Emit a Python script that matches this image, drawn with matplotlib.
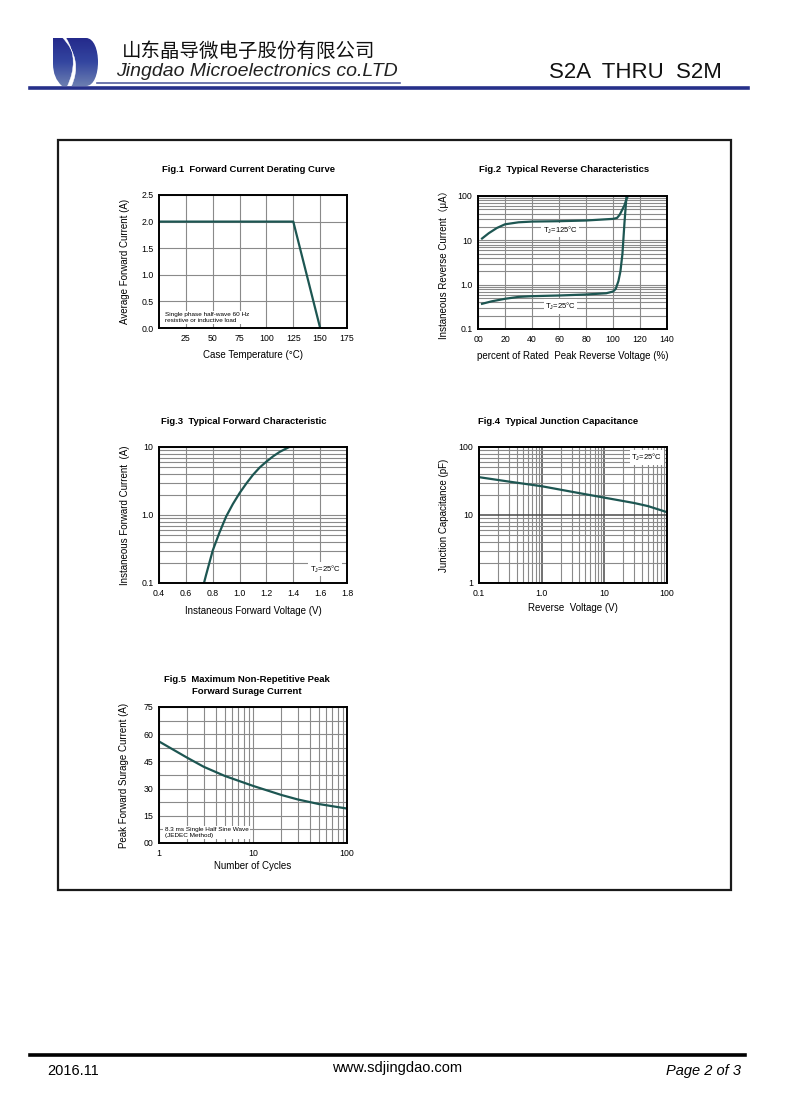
import numpy as np
import matplotlib.pyplot as plt
from matplotlib.path import Path
from matplotlib.patches import PathPatch, Rectangle
from matplotlib.colors import LinearSegmentedColormap
from matplotlib.ticker import FixedLocator, NullFormatter, LogLocator

plt.rcParams['font.family'] = ['Liberation Sans', 'Noto Sans CJK SC', 'DejaVu Sans']
plt.rcParams['mathtext.fontset'] = 'custom'
plt.rcParams['mathtext.rm'] = 'Liberation Sans'

# ---- data ----
# Fig.1 derating
case_temp = [0, 125, 150]
avg_current = [2.0, 2.0, 0.0]

# Fig.2 reverse characteristics (% of rated PRV, uA)
pct_125 = [3, 8, 14, 20, 30, 40, 60, 80, 100, 103, 105, 107, 108.5, 110, 111]
ir_125 = [11, 14.5, 19, 23, 25.5, 26.5, 27, 28, 30.5, 32, 38, 50, 62, 85, 100]
pct_25 = [3, 10, 20, 30, 40, 60, 80, 95, 100, 102, 104, 105.5, 107, 108.5, 110]
ir_25 = [0.37, 0.42, 0.48, 0.53, 0.55, 0.57, 0.6, 0.64, 0.7, 0.8, 1.2, 2.0, 5.0, 25, 100]

# Fig.3 forward characteristic
vf = [0.735, 0.75, 0.8, 0.85, 0.9, 0.95, 1.0, 1.05, 1.1, 1.15, 1.2, 1.25, 1.3, 1.37]
i_f = [0.1, 0.13, 0.3, 0.55, 0.95, 1.45, 2.1, 2.9, 3.9, 5.0, 6.1, 7.3, 8.5, 10]

# Fig.4 junction capacitance
vr = [0.1, 0.3, 1, 3, 10, 30, 50, 100]
cj = [36, 31, 26.5, 22, 18, 15, 13.5, 11]

# Fig.5 surge current
cycles = [1, 2, 3, 5, 10, 20, 30, 50, 100]
ifsm = [56, 47, 42, 37, 31.5, 26.5, 24, 21.5, 19]

W, H = 790, 1117
fig = plt.figure(figsize=(W / 100, H / 100), dpi=100)

curve_col = '#1d5652'
grid_col = '#8a8a8a'
axes_list = []


def px_axes(l, t, r, b):
    a = fig.add_axes([l / W, 1 - b / H, (r - l) / W, (b - t) / H])
    axes_list.append(a)
    return a


def px_text(x, y, s, **kw):
    fig.text(x / W, 1 - y / H, s, **kw)


def style(ax):
    for sp in ax.spines.values():
        sp.set_linewidth(1.4)
        sp.set_color('black')
    ax.grid(True, which='both', color=grid_col, lw=0.8)
    ax.set_axisbelow(True)


def labels(ax, xl, yl, xpos, ypos):
    ax.set_xlabel(xl, fontsize=7, va='center')
    ax.set_ylabel(yl, fontsize=7, va='center')
    ax.xaxis.set_label_coords(0.5, xpos)
    ax.yaxis.set_label_coords(ypos, 0.5)


# ---- page decoration ----
bg = fig.add_axes([0, 0, 1, 1], zorder=-1)
bg.axis('off')

# logo
verts = [(53, 38), (86, 38), (94, 38), (98, 50), (98, 62), (98, 74), (94, 86), (86, 86),
         (62, 86), (53, 78), (53, 64), (53, 38)]
codes = [Path.MOVETO, Path.LINETO, Path.CURVE4, Path.CURVE4, Path.CURVE4, Path.CURVE4,
         Path.CURVE4, Path.CURVE4, Path.LINETO, Path.CURVE3, Path.CURVE3, Path.LINETO]
d_patch = PathPatch(Path(verts, codes), facecolor='none', edgecolor='none')
bg.add_patch(d_patch)
grad = np.linspace(0, 1, 64).reshape(-1, 1)
cmap = LinearSegmentedColormap.from_list('logo', ['#23288a', '#3446a0', '#6f82b2'])
im = bg.imshow(grad, cmap=cmap, extent=(50, 100, 88, 36), aspect='auto', origin='upper')
im.set_clip_path(d_patch)
gap = Path([(62, 37), (66, 38), (80, 60), (67, 87), (71, 87), (84, 60), (62, 37)],
           [Path.MOVETO, Path.LINETO, Path.CURVE3, Path.CURVE3, Path.LINETO, Path.CURVE3, Path.CURVE3])
bg.add_patch(PathPatch(gap, facecolor='white', edgecolor='white', lw=0.3))
bg.set_xlim(0, W)
bg.set_ylim(H, 0)

px_text(122, 51, '山东晶导微电子股份有限公司', fontsize=14, family=['Noto Sans CJK SC'],
        va='center', ha='left', color='#111111', style='italic')
px_text(116, 72, 'Jingdao Microelectronics co.LTD', fontsize=14,
        style='italic', va='center', ha='left', color='#222222')
bg.plot([97, 400], [83, 83], color='#5560a0', lw=1.2)
bg.plot([30, 748], [88, 88], color='#26308a', lw=2.6)
px_text(722, 72, 'S2A  THRU  S2M', fontsize=16, ha='right', va='center', color='#111111')

# frame
bg.add_patch(Rectangle((58, 140), 673, 750, fill=False, edgecolor='#1a1a1a', lw=1.6))

# footer
bg.plot([30, 745], [1055, 1055], color='black', lw=2.6)
px_text(47, 1071, '2016.11', fontsize=10.5, va='center', ha='left')
px_text(397, 1068, 'www.sdjingdao.com', fontsize=10.5, va='center', ha='center')
px_text(741, 1071, 'Page 2 of 3', fontsize=10.5, style='italic', va='center', ha='right')

note_box = dict(facecolor='white', edgecolor='none', pad=1.0)
title_kw = dict(fontsize=6.8, weight='bold', ha='center', va='center')

# ---- Fig.1 ----
ax1 = px_axes(159, 195, 347, 328)
style(ax1)
ax1.plot(case_temp, avg_current, color=curve_col, lw=1.6)
ax1.set_xlim(0, 175)
ax1.set_ylim(0, 2.5)
ax1.set_xticks([25, 50, 75, 100, 125, 150, 175])
ax1.set_xticklabels(['25', '50', '75', '100', '125', '150', '175'])
ax1.set_yticks([0, 0.5, 1.0, 1.5, 2.0, 2.5])
ax1.set_yticklabels(['0.0', '0.5', '1.0', '1.5', '2.0', '2.5'])
ax1.text(0.03, 0.04, 'Single phase half-wave 60 Hz\nresistive or inductive load', fontsize=4.6,
         transform=ax1.transAxes, ha='left', va='bottom', bbox=note_box, linespacing=1.1)
labels(ax1, 'Case Temperature (°C)', 'Average Forward Current (A)', -0.2, -0.18)
px_text(248, 169, 'Fig.1  Forward Current Derating Curve', **title_kw)

# ---- Fig.2 ----
ax2 = px_axes(478, 196, 667, 329)
ax2.set_yscale('log')
style(ax2)
ax2.plot(pct_125, ir_125, color=curve_col, lw=1.6)
ax2.plot(pct_25, ir_25, color=curve_col, lw=1.6)
ax2.set_xlim(0, 140)
ax2.set_ylim(0.1, 100)
ax2.set_xticks(range(0, 141, 20))
ax2.set_xticklabels(['00', '20', '40', '60', '80', '100', '120', '140'])
ax2.set_yticks([0.1, 1, 10, 100])
ax2.set_yticklabels(['0.1', '1.0', '10', '100'])
ax2.yaxis.set_minor_locator(LogLocator(subs=np.arange(2, 10)))
ax2.yaxis.set_minor_formatter(NullFormatter())
ax2.text(61, 17, r'T$_\mathregular{J}$=125°C', fontsize=5.5, ha='center', va='center', bbox=note_box)
ax2.text(61, 0.32, r'T$_\mathregular{J}$=25°C', fontsize=5.5, ha='center', va='center', bbox=note_box)
labels(ax2, 'percent of Rated  Peak Reverse Voltage (%)', 'Instaneous Reverse Current（μA）', -0.2, -0.18)
px_text(564, 170, 'Fig.2  Typical Reverse Characteristics', **title_kw)

# ---- Fig.3 ----
ax3 = px_axes(159, 447, 347, 583)
ax3.set_yscale('log')
style(ax3)
ax3.plot(vf, i_f, color=curve_col, lw=1.6)
ax3.set_xlim(0.4, 1.8)
ax3.set_ylim(0.1, 10)
ax3.set_xticks([0.4, 0.6, 0.8, 1.0, 1.2, 1.4, 1.6, 1.8])
ax3.set_xticklabels(['0.4', '0.6', '0.8', '1.0', '1.2', '1.4', '1.6', '1.8'])
ax3.set_yticks([0.1, 1, 10])
ax3.set_yticklabels(['0.1', '1.0', '10'])
ax3.yaxis.set_minor_locator(LogLocator(subs=np.arange(2, 10)))
ax3.yaxis.set_minor_formatter(NullFormatter())
ax3.text(0.965, 0.06, r'T$_\mathregular{J}$=25°C', fontsize=5.5, transform=ax3.transAxes,
         ha='right', va='bottom', bbox=note_box)
labels(ax3, 'Instaneous Forward Voltage (V)', 'Instaneous Forward Current  (A)', -0.205, -0.18)
px_text(244, 421, 'Fig.3  Typical Forward Characteristic', **title_kw)

# ---- Fig.4 ----
ax4 = px_axes(479, 447, 667, 583)
ax4.set_xscale('log')
ax4.set_yscale('log')
style(ax4)
ax4.grid(True, which='major', color='#4a4a4a', lw=1.1)
ax4.plot(vr, cj, color=curve_col, lw=1.6)
ax4.set_xlim(0.1, 100)
ax4.set_ylim(1, 100)
ax4.set_xticks([0.1, 1, 10, 100])
ax4.set_xticklabels(['0.1', '1.0', '10', '100'])
ax4.set_yticks([1, 10, 100])
ax4.set_yticklabels(['1', '10', '100'])
for axis in (ax4.xaxis, ax4.yaxis):
    axis.set_minor_locator(LogLocator(subs=np.arange(2, 10)))
    axis.set_minor_formatter(NullFormatter())
ax4.text(0.975, 0.965, r'T$_\mathregular{J}$=25°C', fontsize=5.5, transform=ax4.transAxes,
         ha='right', va='top', bbox=note_box)
labels(ax4, 'Reverse  Voltage (V)', 'Junction Capacitance (pF)', -0.185, -0.186)
px_text(558, 421, 'Fig.4  Typical Junction Capacitance', **title_kw)

# ---- Fig.5 ----
ax5 = px_axes(159, 707, 347, 843)
ax5.set_xscale('log')
style(ax5)
ax5.plot(cycles, ifsm, color=curve_col, lw=1.6)
ax5.set_xlim(1, 100)
ax5.set_ylim(0, 75)
ax5.set_xticks([1, 10, 100])
ax5.set_xticklabels(['1', '10', '100'])
ax5.xaxis.set_minor_locator(LogLocator(subs=np.arange(2, 10)))
ax5.xaxis.set_minor_formatter(NullFormatter())
ax5.set_yticks([0, 15, 30, 45, 60, 75])
ax5.set_yticklabels(['00', '15', '30', '45', '60', '75'])
ax5.yaxis.set_minor_locator(FixedLocator([7.5, 22.5, 37.5, 52.5, 67.5]))
ax5.text(0.03, 0.04, '8.3 ms Single Half Sine Wave\n(JEDEC Method)', fontsize=4.6,
         transform=ax5.transAxes, ha='left', va='bottom', bbox=note_box, linespacing=1.1)
labels(ax5, 'Number of Cycles', 'Peak Forward Surage Current (A)', -0.17, -0.186)
px_text(247, 680, 'Fig.5  Maximum Non-Repetitive Peak', **title_kw)
px_text(247, 691, 'Forward Surage Current', **title_kw)

for a in axes_list:
    a.tick_params(which='both', length=0, width=0, labelsize=6.3, pad=4)

fig.savefig('out.png', dpi=100)
